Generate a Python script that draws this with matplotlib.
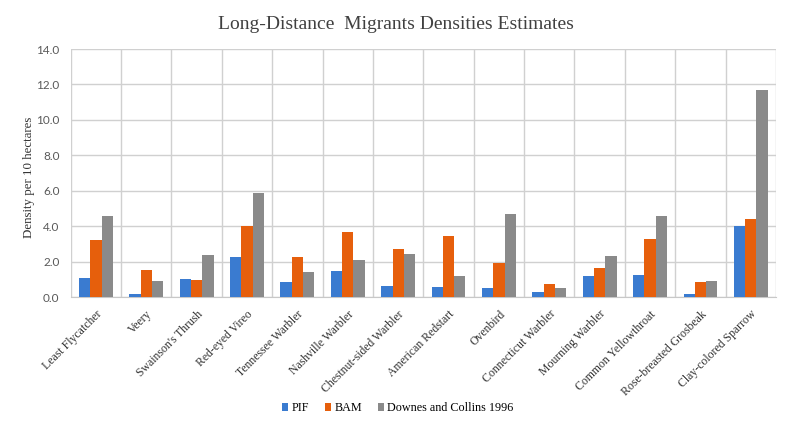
import matplotlib
matplotlib.use("Agg")
import matplotlib.pyplot as plt
import matplotlib.transforms as mtransforms
import numpy as np

categories = ["Least Flycatcher", "Veery", "Swainson's Thrush", "Red-eyed Vireo",
              "Tennessee Warbler", "Nashville Warbler", "Chestnut-sided Warbler",
              "American Redstart", "Ovenbird", "Connecticut Warbler", "Mourning Warbler",
              "Common Yellowthroat", "Rose-breasted Grosbeak", "Clay-colored Sparrow"]
pif = [1.05, 0.19, 1.02, 2.28, 0.87, 1.47, 0.64, 0.56, 0.49, 0.30, 1.17, 1.24, 0.15, 4.01]
bam = [3.24, 1.50, 0.98, 3.99, 2.28, 3.65, 2.71, 3.42, 1.92, 0.72, 1.66, 3.27, 0.83, 4.42]
downes = [4.59, 0.90, 2.39, 5.89, 1.39, 2.11, 2.41, 1.20, 4.70, 0.49, 2.30, 4.59, 0.90, 11.69]
series_names = ["PIF", "BAM", "Downes and Collins 1996"]
colors = ["#3a7bd0", "#e65f0c", "#8a8a8a"]

serif = "Liberation Serif"

fig = plt.figure(figsize=(7.92, 4.4), dpi=100)
ax = fig.add_axes([0.0893, 0.325, 0.8905, 0.5636])

x = np.arange(len(categories))
w = 0.224
for i, (vals, name, c) in enumerate(zip([pif, bam, downes], series_names, colors)):
    ax.bar(x + (i - 1) * w, vals, width=w, color=c, label=name, zorder=3)

ax.set_xlim(-0.5, len(categories) - 0.5)
ax.set_ylim(0, 14)
ax.set_yticks(np.arange(0, 14.1, 2))
ax.set_yticklabels([f"{v:.1f}" for v in np.arange(0, 14.1, 2)], fontsize=8.5, family="Lato",
                   color="#595959")
ax.set_xticks(x)
ax.set_xticklabels(categories, rotation=45, ha="right", rotation_mode="anchor",
                   fontsize=8.5, family=serif, color="#333333")
offset = mtransforms.ScaledTranslation(-2 / 100, 0, fig.dpi_scale_trans)
for lab in ax.get_xticklabels():
    lab.set_transform(lab.get_transform() + offset)
ax.set_xticks(np.arange(-0.5, len(categories)), minor=True)
ax.grid(which="minor", axis="x", color="#d0d0d0", lw=1, zorder=0)
ax.grid(which="major", axis="y", color="#d0d0d0", lw=1, zorder=0)
ax.tick_params(axis="both", which="both", length=0)
ax.tick_params(axis="x", pad=8)
ax.tick_params(axis="y", pad=8)
for s in ["top", "right", "left"]:
    ax.spines[s].set_visible(False)
ax.spines["bottom"].set_color("#c8c8c8")

ax.set_ylabel("Density per 10 hectares", fontsize=9.3, family=serif, color="#333333")
ax.yaxis.set_label_coords(-0.051, 0.481)
fig.text(0.5, 0.945, "Long-Distance  Migrants Densities Estimates", ha="center", va="center",
         fontsize=14, family=serif, color="#404040")

leg = fig.legend(loc="center", bbox_to_anchor=(0.502, 0.072), ncol=3, frameon=False,
                 prop={"family": serif, "size": 8.7}, handlelength=0.55, handleheight=0.55,
                 handletextpad=0.25, columnspacing=1.3)

fig.savefig("out.png", dpi=100)
